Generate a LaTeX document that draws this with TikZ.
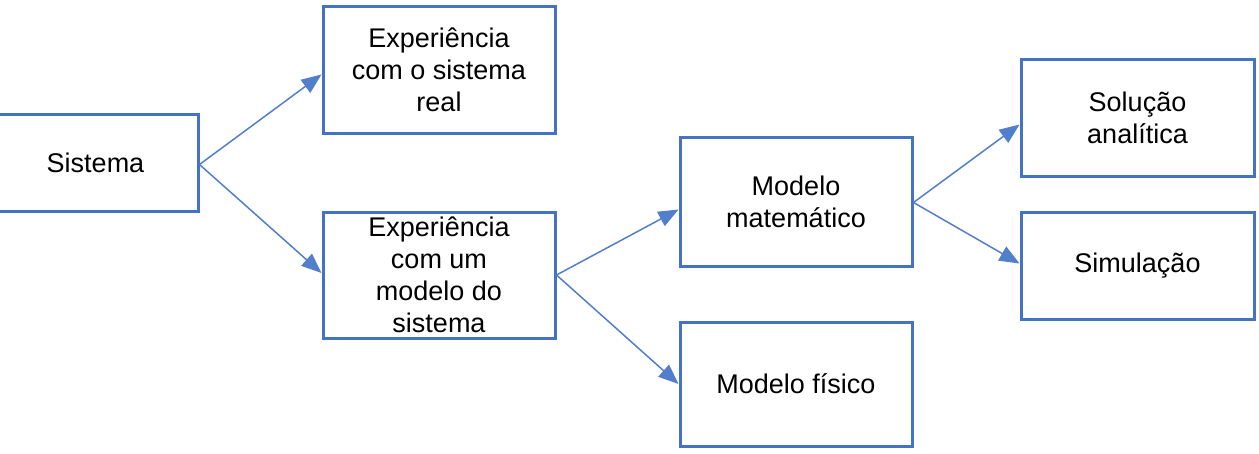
\documentclass[tikz,border=0pt]{standalone}
\usepackage{fontspec}
\setmainfont{Liberation Sans}
\usetikzlibrary{arrows.meta}
\definecolor{boxblue}{RGB}{68,114,196}
\definecolor{linkblue}{RGB}{82,126,204}

\begin{document}
\begin{tikzpicture}[x=1pt,y=-1pt,
    blockbox/.style={draw=boxblue,line width=3pt,align=center,inner sep=0pt,
      minimum width=232pt,font=\fontsize{27}{32}\selectfont},
    link/.style={draw=linkblue,line width=1.5pt,
      -{Triangle[length=20pt,width=16pt]}}]
  \useasboundingbox (0,0) rectangle (1259,453);

  \node[blockbox,minimum width=205pt,minimum height=97pt] (sys) at (95.5,162.5) {Sistema};
  \node[blockbox,minimum height=127pt] (real) at (439,69.5)
    {Experiência\\com o sistema\\real};
  \node[blockbox,minimum height=126pt] (mod) at (439,275)
    {Experiência\\com um\\modelo do\\sistema};
  \node[blockbox,minimum height=129pt] (mat) at (796,201.5)
    {Modelo\\matemático};
  \node[blockbox,minimum height=124pt] (fis) at (796,384) {Modelo físico};
  \node[blockbox,minimum width=233pt,minimum height=117pt] (sol) at (1137.5,117.5)
    {Solução\\analítica};
  \node[blockbox,minimum width=233pt,minimum height=107pt] (sim) at (1137.5,265.5)
    {Simulação};

  \draw[link] ([yshift=-2pt]sys.east) -- ([yshift=-5pt]real.west);
  \draw[link] ([yshift=-2pt]sys.east) -- ([yshift=2pt]mod.west);
  \draw[link] (mod.east) -- ([yshift=-8pt]mat.west);
  \draw[link] (mod.east) -- (fis.west);
  \draw[link] ([yshift=-1pt]mat.east) -- ([yshift=-7pt]sol.west);
  \draw[link] ([yshift=-1pt]mat.east) -- ([yshift=2pt]sim.west);
\end{tikzpicture}
\end{document}
